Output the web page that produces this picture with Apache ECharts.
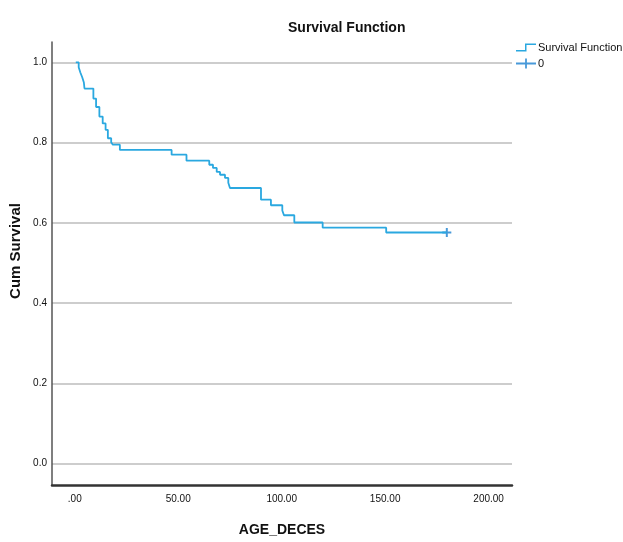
<!DOCTYPE html>
<html>
<head>
<meta charset="utf-8">
<title>Survival Function</title>
<script src="https://cdn.jsdelivr.net/npm/echarts@6/dist/echarts.min.js"></script>
<style>
  html, body { margin: 0; padding: 0; background: #fff; }
  #chart { width: 623px; height: 542px; }
</style>
</head>
<body>
<div id="chart"></div>
<script>
// Kaplan-Meier steps: time, cum survival after that time
const times = [0.5, 1.9, 2.7, 3.6, 4.4, 4.7, 9.0, 10.3, 11.9, 13.5, 14.9, 16.0, 17.6, 18.4,
  21.8, 46.8, 54.0, 65.0, 66.8, 68.6, 70.2, 72.6, 74.2, 75.0, 90.0, 94.8, 100.3, 101.1,
  106.1, 119.8, 150.5, 179.8];
const survival = [1.0, 0.988, 0.975, 0.963, 0.95, 0.935, 0.91, 0.889, 0.865, 0.848, 0.832, 0.811, 0.801, 0.795,
  0.782, 0.77, 0.755, 0.745, 0.737, 0.727, 0.72, 0.712, 0.7, 0.687, 0.658, 0.644, 0.631, 0.619,
  0.601, 0.588, 0.576, 0.576];
// censored case
const censorTimes = [179.8];
const censorSurvival = [0.576];

const xTicks = [0, 50, 100, 150, 200];
const yTicks = [0, 0.2, 0.4, 0.6, 0.8, 1.0];

const sans = "'Liberation Sans', Arial, sans-serif";

const stepIcon = 'path://M0,8.5H9V2H20V3.5H10.5V10H0Z';
const plusIcon = 'path://M0,4.1H9.1V0H10.9V4.1H20V5.9H10.9V10H9.1V5.9H0Z';
const plusMark = 'path://M3.9,0H6.1V3.9H10V6.1H6.1V10H3.9V6.1H0V3.9H3.9Z';

const chart = echarts.init(document.getElementById('chart'));

chart.setOption({
  animation: false,
  title: {
    text: 'Survival Function',
    left: 283,
    top: 16,
    textStyle: { fontFamily: sans, fontWeight: 'bold', fontSize: 14, color: '#111' },
  },
  legend: {
    orient: 'vertical',
    left: 511,
    top: 37,
    itemWidth: 20,
    itemHeight: 10,
    itemGap: 5,
    textStyle: { fontFamily: sans, fontSize: 11, color: '#111', padding: [0, 0, 0, -3] },
    data: [
      { name: 'Survival Function', icon: stepIcon },
      { name: '0', icon: plusIcon },
    ],
  },
  grid: { left: 52, top: 42, width: 460, height: 446 },
  xAxis: {
    type: 'value',
    min: -11,
    max: 211.3,
    name: 'AGE_DECES',
    nameLocation: 'middle',
    nameGap: 38,
    nameTextStyle: { fontFamily: sans, fontWeight: 'bold', fontSize: 14, color: '#111' },
    axisLine: { onZero: false, lineStyle: { color: '#333', width: 2.5 } },
    axisTick: { show: false, customValues: xTicks },
    splitLine: { show: false },
    axisLabel: {
      customValues: xTicks,
      margin: 9,
      fontFamily: sans,
      fontSize: 10,
      color: '#111',
      formatter: (v) => (v === 0 ? '.00' : v.toFixed(2)),
    },
  },
  yAxis: {
    type: 'value',
    min: -0.0535,
    max: 1.051,
    axisLine: { show: true, onZero: false, lineStyle: { color: '#555', width: 1.5 } },
    axisTick: { show: false, customValues: yTicks },
    splitLine: { show: true, lineStyle: { color: '#bcbcbc', width: 1.5 } },
    axisLabel: {
      customValues: yTicks,
      margin: 5,
      fontFamily: sans,
      fontSize: 10,
      color: '#111',
      formatter: (v) => v.toFixed(1),
    },
  },
  graphic: [
    {
      type: 'text',
      x: 16,
      y: 251,
      rotation: Math.PI / 2,
      style: {
        text: 'Cum Survival',
        fill: '#111',
        font: "bold 15px 'Liberation Sans', Arial, sans-serif",
        textAlign: 'center',
        textVerticalAlign: 'middle',
      },
    },
  ],
  series: [
    {
      name: 'Survival Function',
      type: 'line',
      step: 'end',
      color: '#2aa8e0',
      showSymbol: false,
      symbol: 'none',
      lineStyle: { width: 1.8, color: '#2aa8e0' },
      data: times.map((t, i) => [t, survival[i]]),
    },
    {
      name: '0',
      type: 'scatter',
      color: '#1a80d0',
      symbol: plusMark,
      symbolSize: 9,
      data: censorTimes.map((t, i) => [t, censorSurvival[i]]),
    },
  ],
});
</script>
</body>
</html>
